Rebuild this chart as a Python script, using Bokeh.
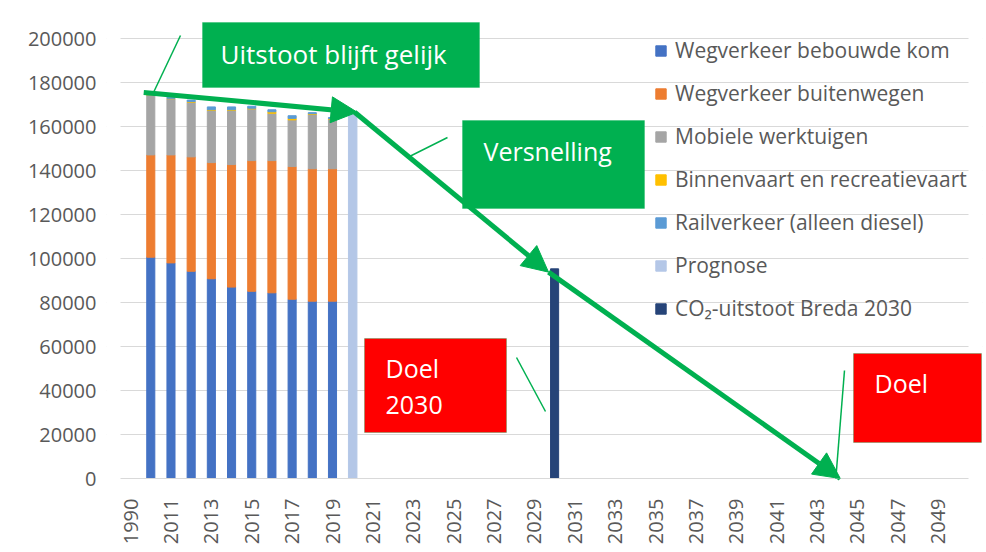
from bokeh.plotting import figure
from bokeh.models import (ColumnDataSource, FactorRange, Range1d, FixedTicker,
                          BasicTickFormatter, Legend, LegendItem, BoxAnnotation,
                          Label, Arrow, NormalHead, NoOverlap)
from bokeh.embed import file_html
from bokeh.resources import INLINE

# ---------------- data ----------------
years = ["1990", "2010", "2011", "2012", "2013", "2014", "2015", "2016", "2017",
         "2018", "2019", "2020", "2021", "2022", "2023", "2024", "2025", "2026",
         "2027", "2028", "2029", "2030", "2031", "2032", "2033", "2034", "2035",
         "2036", "2037", "2038", "2039", "2040", "2041", "2042", "2043", "2044",
         "2045", "2046", "2047", "2048", "2049", "2050"]

hist_years = ["2010", "2011", "2012", "2013", "2014", "2015", "2016", "2017", "2018", "2019"]
wegverkeer_bebouwd = [100600, 98000, 94200, 90800, 87000, 85100, 84400, 81500, 80600, 80600]
wegverkeer_buiten = [46500, 49100, 52000, 52800, 55700, 59400, 60100, 60300, 60200, 60200]
mobiele_werktuigen = [27000, 25500, 24800, 23700, 24600, 23500, 21500, 21200, 24700, 22500]
binnenvaart = [200, 200, 300, 300, 300, 300, 700, 700, 300, 300]
railverkeer = [500, 500, 700, 1300, 1300, 900, 900, 1200, 500, 500]

prognose_year = ["2020"]
prognose_value = [166500]

target_year = ["2030"]
target_value = [95300]

trend_start_year = "2010"
trend_start_value = 175500
zero_year = "2044"
zero_value = 0

y_ticks = [0, 20000, 40000, 60000, 80000, 100000, 120000, 140000, 160000, 180000, 200000]

series_names = ["Wegverkeer bebouwde kom", "Wegverkeer buitenwegen", "Mobiele werktuigen",
                "Binnenvaart en recreatievaart", "Railverkeer (alleen diesel)"]
prognose_name = "Prognose"
target_name = "CO\u2082-uitstoot Breda 2030"

# ---------------- style ----------------
FONT = "Open Sans"
GREEN = "#00b050"
RED = "#ff0000"
TXT = "#595959"
GRID = "#d9d9d9"
colors = ["#4472c4", "#ed7d31", "#a5a5a5", "#ffc000", "#5b9bd5"]

W, H = 986, 552
FL, FR, FT, FB = 106, 982, 20, 478          # frame edges in page pixels
PLOT_TOP_PX = 38                             # where the top tick sits
y_end = y_ticks[-1] * (FB - FT) / (FB - PLOT_TOP_PX)
side_pad = 14 / ((FR - FL - 28) / len(years))  # categories of extra room per side

p = figure(x_range=FactorRange(factors=years, range_padding=side_pad,
                               range_padding_units="absolute"),
           y_range=Range1d(0, y_end),
           width=W, height=H, output_backend="svg", toolbar_location=None,
           min_border_left=FL, min_border_right=W - FR, min_border_top=FT,
           min_border_bottom=H - FB)
p.outline_line_color = None
p.background_fill_color = "white"
p.border_fill_color = "white"

src = ColumnDataSource(dict(x=hist_years, s0=wegverkeer_bebouwd, s1=wegverkeer_buiten,
                            s2=mobiele_werktuigen, s3=binnenvaart, s4=railverkeer))
stack = p.vbar_stack(["s0", "s1", "s2", "s3", "s4"], x="x", width=0.4,
                     color=colors, source=src)
r_prog = p.vbar(x=prognose_year, top=prognose_value, width=0.42, color="#b4c7e7")
r_target = p.vbar(x=target_year, top=target_value, width=0.4, color="#264478")

# axes
p.yaxis.ticker = FixedTicker(ticks=y_ticks)
p.yaxis.formatter = BasicTickFormatter(use_scientific=False)
p.yaxis.axis_line_color = None
p.yaxis.major_tick_line_color = None
p.yaxis.minor_tick_line_color = None
p.yaxis.major_label_standoff = 4
p.yaxis.major_label_text_font = FONT
p.yaxis.major_label_text_font_size = "20px"
p.yaxis.major_label_text_color = TXT

p.xaxis.axis_line_color = GRID
p.xaxis.bounds = (0, len(years))
p.xaxis.major_tick_line_color = None
p.xaxis.minor_tick_line_color = None
p.xaxis.major_label_orientation = 3.14159265 / 2
p.xaxis.major_label_standoff = 14
p.xaxis.major_label_text_font = FONT
p.xaxis.major_label_text_font_size = "20px"
p.xaxis.major_label_text_color = TXT
p.xaxis.major_label_policy = NoOverlap(min_distance=12)

p.xgrid.grid_line_color = None
p.ygrid.grid_line_color = GRID
p.ygrid.grid_line_width = 1

FW, FH = FR - FL, FB - FT


def sbox(l, r, t, b, **kw):
    return BoxAnnotation(left=l, right=r, top=t, bottom=b,
                         left_units="screen", right_units="screen",
                         top_units="screen", bottom_units="screen", **kw)


# white strips so gridlines span only the category area
p.add_layout(sbox(-2, 14, FH + 2, -5, fill_color="white", fill_alpha=1,
                  line_alpha=0, level="underlay"))
p.add_layout(sbox(FW - 14, FW + 2, FH + 2, -5, fill_color="white", fill_alpha=1,
                  line_alpha=0, level="underlay"))

# legend
items = [LegendItem(label=n, renderers=[r]) for n, r in zip(series_names, stack)]
items.append(LegendItem(label=prognose_name, renderers=[r_prog]))
items.append(LegendItem(label=target_name, renderers=[r_target]))
legend = Legend(items=items, location=(548, 155), background_fill_alpha=0,
                border_line_color=None, padding=0, margin=0, spacing=13,
                label_height=30, glyph_height=13, glyph_width=13, label_standoff=8,
                label_text_font=FONT, label_text_font_size="21px",
                label_text_color=TXT)
p.add_layout(legend)


def sx(year, off=0.0):
    return years.index(year) + 0.5 + off


# trend arrows
def head():
    return NormalHead(size=26, fill_color=GREEN, line_color=GREEN)


p.add_layout(Arrow(end=head(), x_start=sx(trend_start_year, -0.35), y_start=trend_start_value,
                   x_end=sx(prognose_year[0], 0.22), y_end=prognose_value[0],
                   line_color=GREEN, line_width=5))
p.add_layout(Arrow(end=head(), x_start=sx(prognose_year[0], 0.1), y_start=prognose_value[0],
                   x_end=sx(target_year[0], -0.3), y_end=target_value[0] - 1500,
                   line_color=GREEN, line_width=5))
p.add_layout(Arrow(end=head(), x_start=sx(target_year[0], -0.3), y_start=target_value[0] - 1500,
                   x_end=sx(zero_year, 0.15), y_end=zero_value,
                   line_color=GREEN, line_width=5))


# boxes and labels (screen units relative to plot frame, origin bottom-left)
def box(l, r, t, b, fill):
    p.add_layout(sbox(l, r, t, b, fill_color=fill, fill_alpha=1,
                      line_color=GREEN, line_width=1))


def label(x, y, text, size="25px"):
    p.add_layout(Label(x=x, y=y, x_units="screen", y_units="screen", text=text,
                       text_color="white", text_font=FONT, text_font_size=size,
                       text_baseline="middle", text_align="left"))


def callout(x0, y0, x1, y1):
    p.add_layout(Arrow(end=None, start=None, x_start=x0, y_start=y0, x_end=x1, y_end=y1,
                       start_units="screen", end_units="screen",
                       line_color=GREEN, line_width=1.5))


box(96, 373, 456, 391, GREEN)
label(114, 425, "Uitstoot blijft gelijk", "26px")
callout(74, 443, 47, 386)

box(356, 538, 358, 270, GREEN)
label(377, 328, "Versnelling")
callout(341, 341, 301, 321)

box(258, 400, 140, 46, RED)
label(279, 111, "Doel")
label(279, 74, "2030")
callout(410, 121, 439, 67)

box(747, 875, 125, 36, RED)
label(768, 96, "Doel")
callout(738, 108, 729, -4)

open("out.html", "w").write(file_html(p, INLINE))
